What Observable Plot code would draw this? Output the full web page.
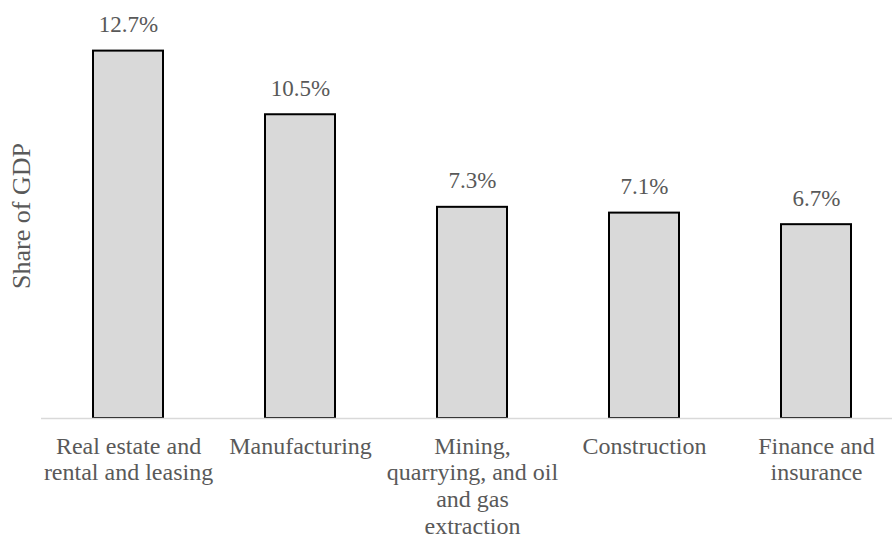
<!DOCTYPE html>
<html>
<head>
<meta charset="utf-8">
<script src="https://cdn.jsdelivr.net/npm/d3@7"></script>
<script src="https://cdn.jsdelivr.net/npm/@observablehq/plot@0.6"></script>
<style>
  html, body { margin: 0; padding: 0; background: #fff; }
  #chart svg { display: block; }
  #chart svg, #chart svg text { font-family: "Liberation Serif", "Times New Roman", "DejaVu Serif", serif !important; }
</style>
</head>
<body>
<div id="chart"></div>
<script>
const categories = [
  "Real estate and rental and leasing",
  "Manufacturing",
  "Mining, quarrying, and oil and gas extraction",
  "Construction",
  "Finance and insurance"
];
const shares = [12.7, 10.5, 7.3, 7.1, 6.7];
const tickLabels = [
  "Real estate and\nrental and leasing",
  "Manufacturing",
  "Mining,\nquarrying, and oil\nand gas\nextraction",
  "Construction",
  "Finance and\ninsurance"
];
const yTitle = "Share of GDP";

const serif = "Liberation Serif";
const data = categories.map((c, i) => ({cat: c, share: shares[i], label: shares[i].toFixed(1) + "%"}));
const labelMap = new Map(categories.map((c, i) => [c, tickLabels[i]]));

const chart = Plot.plot({
  width: 892,
  height: 538,
  marginTop: 13,
  marginBottom: 120,
  marginLeft: 41,
  marginRight: 0,
  style: {fontFamily: serif, color: "#595959", background: "#fff"},
  x: {domain: categories, range: [41, 903.5], paddingInner: 0.594, paddingOuter: 0.297, align: 0.5, axis: null},
  y: {domain: [0, 14], axis: null},
  marks: [
    Plot.barY(data, {x: "cat", y: "share", fill: "#d9d9d9", stroke: "#000", strokeWidth: 2}),
    Plot.ruleY([0], {stroke: "#d9d9d9", strokeWidth: 1.5}),
    Plot.text(data, {x: "cat", y: "share", text: "label", lineAnchor: "bottom", dy: -19, fontSize: 23, fontFamily: serif, fill: "#595959"}),
    Plot.axisX({tickSize: 0, tickPadding: 16, tickFormat: d => labelMap.get(d), fontSize: 24, fontFamily: serif, lineHeight: 1.12, label: null, fill: "#595959"}),
    Plot.text([yTitle], {text: d => d, frameAnchor: "left", textAnchor: "middle", rotate: -90, dx: -20, fontSize: 26, fontFamily: serif, fill: "#595959"})
  ]
});
document.getElementById("chart").appendChild(chart);
</script>
</body>
</html>
